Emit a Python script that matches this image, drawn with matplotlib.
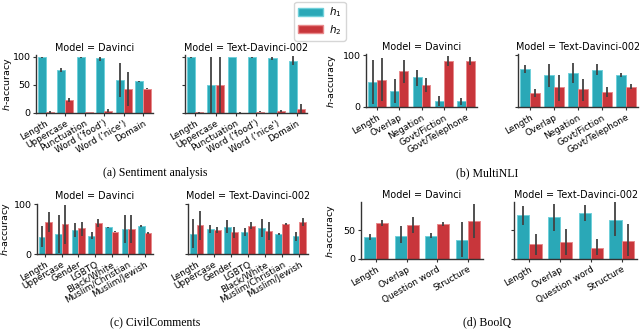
import matplotlib
matplotlib.use("Agg")
import matplotlib.pyplot as plt
import numpy as np
from matplotlib.patches import Patch

# ---------------- data ----------------
sent_cats = ["Length", "Uppercase", "Punctuation", "Word ('food')", "Word ('nice')", "Domain"]
sent_dav_h1 = [99, 76.5, 99, 97, 58, 56]
sent_dav_h1_lo = [98, 73, 98, 93, 28, 55]
sent_dav_h1_hi = [100, 80, 100, 100, 88, 57]
sent_dav_h2 = [2, 23, 2, 3.5, 42, 43.5]
sent_dav_h2_lo = [0.5, 19, 1, 1, 12, 42.5]
sent_dav_h2_hi = [3, 27, 2.5, 7, 72, 44.5]
sent_td_h1 = [99, 50, 100, 99, 97, 92]
sent_td_h1_lo = [98, 0, 99.5, 98, 95, 85]
sent_td_h1_hi = [100, 100, 100, 100, 99, 101]
sent_td_h2 = [1, 50, 0.5, 2, 3, 7]
sent_td_h2_lo = [0, 0, 0, 1, 1, 0]
sent_td_h2_hi = [2.5, 100, 1, 3.5, 6, 16]

nli_cats = ["Length", "Overlap", "Negation", "Govt/Fiction", "Govt/Telephone"]
nli_dav_h1 = [48, 30, 58, 12, 11]
nli_dav_h1_lo = [6, 8, 40, 2, 3]
nli_dav_h1_hi = [90, 54, 72, 22, 18]
nli_dav_h2 = [52.5, 70, 42, 88, 89]
nli_dav_h2_lo = [11, 47, 28, 78, 81]
nli_dav_h2_hi = [94, 90, 56, 98, 97]
nli_td_h1 = [73, 61, 65, 72, 61]
nli_td_h1_lo = [65, 39, 46, 62, 57]
nli_td_h1_hi = [81, 83, 84, 82, 65]
nli_td_h2 = [27, 39, 35, 29, 39]
nli_td_h2_lo = [20, 11, 11, 20, 35]
nli_td_h2_hi = [35, 62, 54, 39, 44]

civ_cats = ["Length", "Uppercase", "Gender", "LGBTQ", "Black/White", "Muslim/Christian", "Muslim/Jewish"]
civ_dav_h1 = [35, 40, 48, 37, 54, 50, 56]
civ_dav_h1_lo = [15, 3, 35, 30, 53, 22, 54.5]
civ_dav_h1_hi = [56, 78, 62, 45, 55, 78, 57.5]
civ_dav_h2 = [64, 60, 52, 62, 45, 50, 42]
civ_dav_h2_lo = [45, 21, 36, 55, 44, 22, 40.5]
civ_dav_h2_hi = [85, 98, 65, 70, 46, 78, 43.5]
civ_td_h1 = [41, 50, 54, 44, 52, 40, 36]
civ_td_h1_lo = [12, 43, 42, 37, 35, 38.5, 27]
civ_td_h1_hi = [70, 58, 68, 52, 70, 41.5, 44]
civ_td_h2 = [59, 48, 44, 56, 47, 60, 64]
civ_td_h2_lo = [28, 42, 33, 50, 28, 58, 56]
civ_td_h2_hi = [87, 55, 55, 64, 65, 62, 72]

bq_cats = ["Length", "Overlap", "Question word", "Structure"]
bq_dav_h1 = [38, 41, 40, 34]
bq_dav_h1_lo = [33, 28, 36, 4]
bq_dav_h1_hi = [44, 57, 45, 65]
bq_dav_h2 = [63, 60, 61, 67]
bq_dav_h2_lo = [58, 46, 57, 37]
bq_dav_h2_hi = [68, 74, 65, 96]
bq_td_h1 = [76, 73, 80, 68]
bq_td_h1_lo = [59, 49, 67, 41]
bq_td_h1_hi = [92, 96, 95, 99]
bq_td_h2 = [26, 29, 20, 32]
bq_td_h2_lo = [7, 7, 7, 6]
bq_td_h2_hi = [43, 52, 35, 61]

models = ["Davinci", "Text-Davinci-002"]
series_labels = ["$h_1$", "$h_2$"]
captions = ["(a) Sentiment analysis", "(b) MultiNLI", "(c) CivilComments", "(d) BoolQ"]

# ---------------- style ----------------
C1, C1E = "#2aa8b7", "#6fd0da"
C2, C2E = "#c8363b", "#e88a8c"
ERRC = "#424242"
plt.rcParams["font.family"] = ["DejaVu Sans"]
FS_TICK = 6.4
FS_TITLE = 6.9
FS_YLAB = 6.8

W, H = 640, 330
fig = plt.figure(figsize=(W / 100, H / 100), dpi=100)


def px_axes(x0, y0, x1, y1):
    return fig.add_axes([x0 / W, 1 - y1 / H, (x1 - x0) / W, (y1 - y0) / H])


def draw(ax, cats, h1, h1lo, h1hi, h2, h2lo, h2hi, title, ylim, ylab_off=None):
    x = np.arange(len(cats))
    bw = 0.4
    ax.bar(x - bw / 2, h1, bw, color=C1, edgecolor=C1E, linewidth=0.7, zorder=2)
    ax.bar(x + bw / 2, h2, bw, color=C2, edgecolor=C2E, linewidth=0.7, zorder=2)
    ax.vlines(x - bw / 2, h1lo, h1hi, color=ERRC, lw=1.3, zorder=3)
    ax.vlines(x + bw / 2, h2lo, h2hi, color=ERRC, lw=1.3, zorder=3)
    ax.set_xlim(-0.5, len(cats) - 0.5)
    ax.set_ylim(*ylim)
    ax.set_xticks(x)
    ax.set_xticklabels(cats, rotation=30, ha="right", rotation_mode="anchor", fontsize=FS_TICK)
    ax.tick_params(axis="both", labelsize=FS_TICK + 0.4, length=2.5, width=0.8, pad=1.5, color="#333333")
    ax.tick_params(axis="x", labelsize=FS_TICK)
    for s in ["top", "right"]:
        ax.spines[s].set_visible(False)
    for s in ["left", "bottom"]:
        ax.spines[s].set_linewidth(1.0)
        ax.spines[s].set_color("#333333")
    ax.set_title(f"Model = {title}", fontsize=FS_TITLE, pad=3)
    if ylab_off is not None:
        ax.set_ylabel("$h$-accuracy", fontsize=FS_YLAB)
        wpx = ax.get_position().width * W
        ax.yaxis.set_label_coords(-ylab_off / wpx, 0.5)
    else:
        ax.set_yticklabels([])


# (a)
ax = px_axes(36, 55, 153, 113)
draw(ax, sent_cats, sent_dav_h1, sent_dav_h1_lo, sent_dav_h1_hi, sent_dav_h2, sent_dav_h2_lo, sent_dav_h2_hi, models[0], (0, 103), 22)
ax = px_axes(185, 55, 307, 113)
draw(ax, sent_cats, sent_td_h1, sent_td_h1_lo, sent_td_h1_hi, sent_td_h2, sent_td_h2_lo, sent_td_h2_hi, models[1], (0, 103))
# (b)
ax = px_axes(366, 54, 477, 107)
draw(ax, nli_cats, nli_dav_h1, nli_dav_h1_lo, nli_dav_h1_hi, nli_dav_h2, nli_dav_h2_lo, nli_dav_h2_hi, models[0], (0, 102), 28)
ax = px_axes(518, 54, 638, 107)
draw(ax, nli_cats, nli_td_h1, nli_td_h1_lo, nli_td_h1_hi, nli_td_h2, nli_td_h2_lo, nli_td_h2_hi, models[1], (0, 102))
# (c)
ax = px_axes(37, 203.5, 153, 254)
draw(ax, civ_cats, civ_dav_h1, civ_dav_h1_lo, civ_dav_h1_hi, civ_dav_h2, civ_dav_h2_lo, civ_dav_h2_hi, models[0], (0, 101), 25)
ax = px_axes(188, 203.5, 308, 254)
draw(ax, civ_cats, civ_td_h1, civ_td_h1_lo, civ_td_h1_hi, civ_td_h2, civ_td_h2_lo, civ_td_h2_hi, models[1], (0, 101))
# (d)
ax = px_axes(361, 202, 483, 259)
draw(ax, bq_cats, bq_dav_h1, bq_dav_h1_lo, bq_dav_h1_hi, bq_dav_h2, bq_dav_h2_lo, bq_dav_h2_hi, models[0], (0, 99.5), 24)
ax = px_axes(514, 202, 637, 259)
draw(ax, bq_cats, bq_td_h1, bq_td_h1_lo, bq_td_h1_hi, bq_td_h2, bq_td_h2_lo, bq_td_h2_hi, models[1], (0, 99.5))

# captions
cap_pos = [(155, 173), (487, 173), (155, 322), (487, 322)]
for cap, (cx, cy) in zip(captions, cap_pos):
    fig.text(cx / W, 1 - cy / H, cap, ha="center", va="center",
             fontsize=8.5, family=["Liberation Serif", "DejaVu Serif"])

# legend
handles = [Patch(facecolor=C1, edgecolor=C1E), Patch(facecolor=C2, edgecolor=C2E)]
fig.legend(handles, series_labels, loc="upper center", bbox_to_anchor=(320 / W, 1 - 2 / H),
           borderaxespad=0, fontsize=7.5, frameon=True, handlelength=2.4, handleheight=0.8,
           borderpad=0.35, labelspacing=0.35, handletextpad=0.6, edgecolor="#cccccc")

fig.savefig("out.png", dpi=100)
